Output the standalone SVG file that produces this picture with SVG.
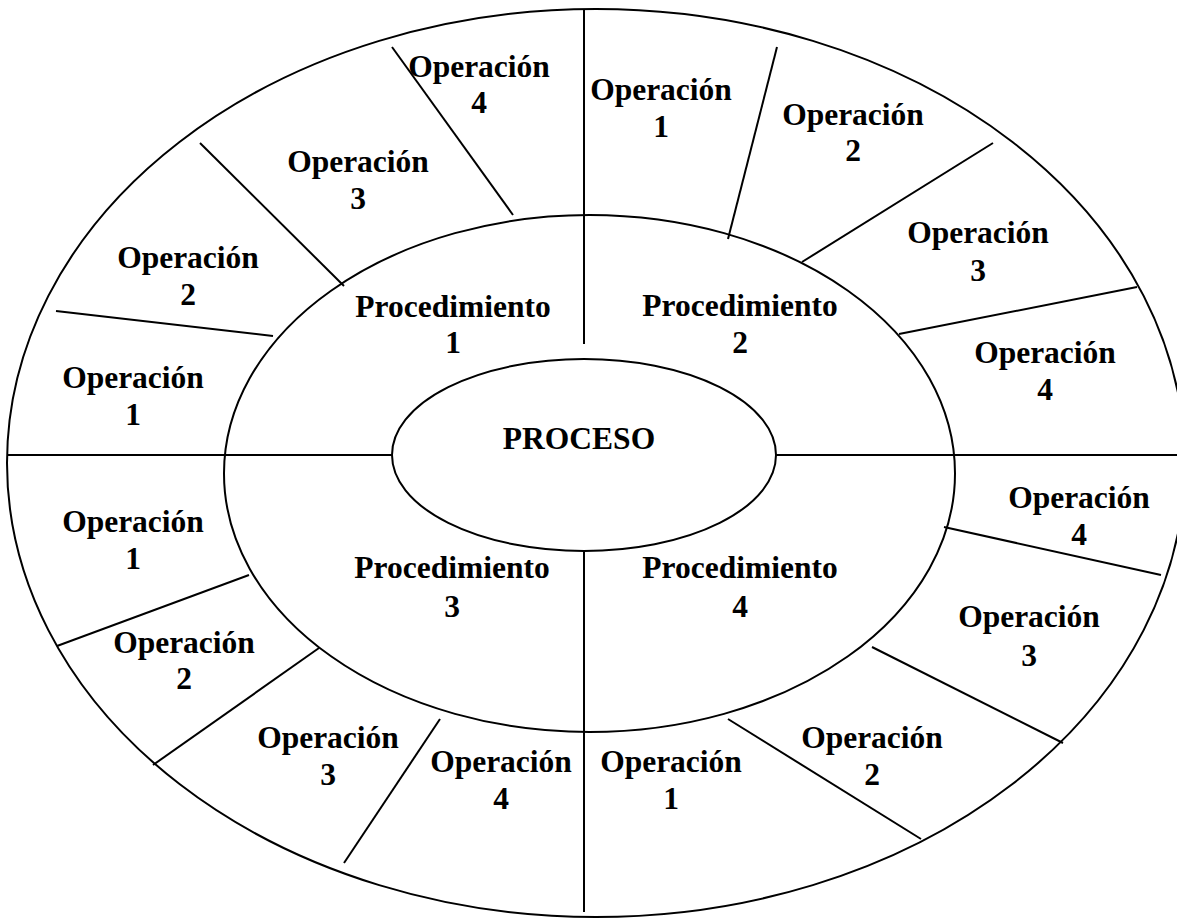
<svg xmlns="http://www.w3.org/2000/svg" width="1177" height="918" viewBox="0 0 1177 918">
  <style>
    .ring { fill: none; stroke: #000; stroke-width: 2; }
    .sep { stroke: #000; stroke-width: 2; fill: none; }
    .lbl { font-family: "Liberation Serif", "Times New Roman", serif; font-weight: bold; font-size: 31.5px; fill: #000; text-anchor: middle; }
  </style>
  <rect width="1177" height="918" fill="#fff"/>

  <!-- concentric rings -->
  <g id="rings">
    <ellipse id="ring-outer" class="ring" cx="596" cy="463" rx="589" ry="454"/>
    <ellipse id="ring-middle" class="ring" cx="589.5" cy="473.5" rx="365.5" ry="258.5"/>
  </g>

  <!-- dividing lines -->
  <g id="connectors">
    <line class="sep" x1="7" y1="455" x2="392" y2="455"/>
    <line class="sep" x1="776" y1="455" x2="1177" y2="455"/>
    <line class="sep" x1="584" y1="9" x2="584" y2="344"/>
    <line class="sep" x1="584" y1="552" x2="584" y2="912"/>
    <!-- procedure 1 -->
    <line class="sep" x1="392" y1="47" x2="513" y2="215"/>
    <line class="sep" x1="200" y1="143" x2="344" y2="286"/>
    <line class="sep" x1="56" y1="311" x2="273" y2="336"/>
    <!-- procedure 2 -->
    <line class="sep" x1="777" y1="47" x2="728" y2="239"/>
    <line class="sep" x1="993" y1="143" x2="802" y2="262"/>
    <line class="sep" x1="1137" y1="287" x2="899" y2="334"/>
    <!-- procedure 4 -->
    <line class="sep" x1="944" y1="527" x2="1161" y2="575"/>
    <line class="sep" x1="872" y1="647" x2="1063" y2="743"/>
    <line class="sep" x1="728" y1="719" x2="921" y2="839"/>
    <!-- procedure 3 -->
    <line class="sep" x1="249" y1="575" x2="57" y2="646"/>
    <line class="sep" x1="319" y1="648" x2="153" y2="765"/>
    <line class="sep" x1="440" y1="719" x2="344" y2="863"/>
  </g>

  <!-- centre -->
  <g id="proceso">
    <ellipse class="ring" cx="584" cy="455" rx="192" ry="96"/>
    <text class="lbl" x="579" y="449">PROCESO</text>
  </g>

  <!-- procedures -->
  <g id="proc-1"><text class="lbl" x="453" y="317">Procedimiento</text><text class="lbl" x="453" y="353">1</text></g>
  <g id="proc-2"><text class="lbl" x="740" y="316">Procedimiento</text><text class="lbl" x="740" y="353">2</text></g>
  <g id="proc-3"><text class="lbl" x="452" y="578">Procedimiento</text><text class="lbl" x="452" y="617">3</text></g>
  <g id="proc-4"><text class="lbl" x="740" y="578">Procedimiento</text><text class="lbl" x="740" y="617">4</text></g>

  <!-- operations of procedure 1 -->
  <g id="p1-op1"><text class="lbl" x="133" y="388">Operación</text><text class="lbl" x="133" y="425">1</text></g>
  <g id="p1-op2"><text class="lbl" x="188" y="268">Operación</text><text class="lbl" x="188" y="305">2</text></g>
  <g id="p1-op3"><text class="lbl" x="358" y="172">Operación</text><text class="lbl" x="358" y="209">3</text></g>
  <g id="p1-op4"><text class="lbl" x="479" y="77">Operación</text><text class="lbl" x="479" y="113">4</text></g>

  <!-- operations of procedure 2 -->
  <g id="p2-op1"><text class="lbl" x="661" y="100">Operación</text><text class="lbl" x="661" y="137">1</text></g>
  <g id="p2-op2"><text class="lbl" x="853" y="125">Operación</text><text class="lbl" x="853" y="161">2</text></g>
  <g id="p2-op3"><text class="lbl" x="978" y="243">Operación</text><text class="lbl" x="978" y="281">3</text></g>
  <g id="p2-op4"><text class="lbl" x="1045" y="363">Operación</text><text class="lbl" x="1045" y="400">4</text></g>

  <!-- operations of procedure 3 -->
  <g id="p3-op1"><text class="lbl" x="133" y="532">Operación</text><text class="lbl" x="133" y="569">1</text></g>
  <g id="p3-op2"><text class="lbl" x="184" y="653">Operación</text><text class="lbl" x="184" y="689">2</text></g>
  <g id="p3-op3"><text class="lbl" x="328" y="748">Operación</text><text class="lbl" x="328" y="785">3</text></g>
  <g id="p3-op4"><text class="lbl" x="501" y="772">Operación</text><text class="lbl" x="501" y="809">4</text></g>

  <!-- operations of procedure 4 -->
  <g id="p4-op1"><text class="lbl" x="671" y="772">Operación</text><text class="lbl" x="671" y="809">1</text></g>
  <g id="p4-op2"><text class="lbl" x="872" y="748">Operación</text><text class="lbl" x="872" y="785">2</text></g>
  <g id="p4-op3"><text class="lbl" x="1029" y="627">Operación</text><text class="lbl" x="1029" y="666">3</text></g>
  <g id="p4-op4"><text class="lbl" x="1079" y="508">Operación</text><text class="lbl" x="1079" y="545">4</text></g>
</svg>
